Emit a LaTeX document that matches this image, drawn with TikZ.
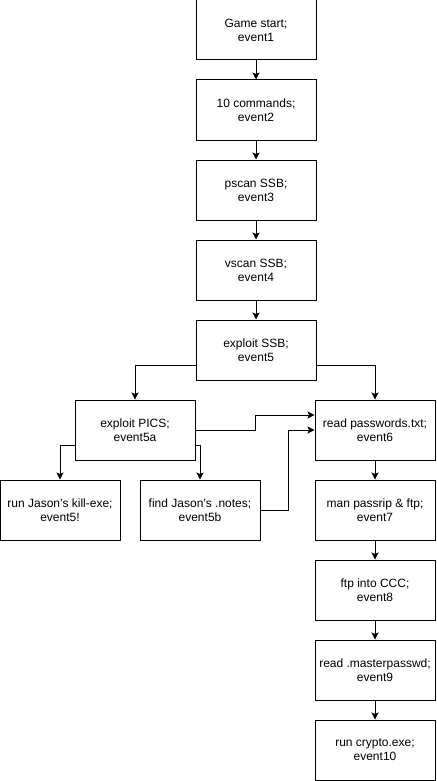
\documentclass[tikz,border=0pt]{standalone}
\usepackage{fontspec}
\setmainfont{Liberation Sans}
\usetikzlibrary{arrows.meta}
\usetikzlibrary{calc}

\tikzset{
  event/.style={draw, line width=1pt, minimum width=120pt, minimum height=60pt,
    inner sep=0pt, align=center, font=\fontsize{12}{14}\selectfont},
  link/.style={-{Stealth[length=7pt,width=7pt,inset=1.5pt]}, line width=1pt}
}

\begin{document}
\begin{tikzpicture}[x=1pt, y=-1pt]
    \useasboundingbox (0,0) rectangle (436,781);
    % main line
    \node[event] (e1) at (256,30) {Game start;\\event1};
    \node[event] (e2) at (256,110) {10 commands;\\event2};
    \node[event] (e3) at (256,190) {pscan SSB;\\event3};
    \node[event] (e4) at (256,270) {vscan SSB;\\event4};
    \node[event] (e5) at (256,350) {exploit SSB;\\event5};
    % side branch
    \node[event] (e5a) at (135,430) {exploit PICS;\\event5a};
    \node[event] (e5x) at (60,510) {run Jason's kill-exe;\\event5!};
    \node[event] (e5b) at (200,510) {find Jason's .notes;\\event5b};
    % right column
    \node[event] (e6) at (375,430) {read passwords.txt;\\event6};
    \node[event] (e7) at (375,510) {man passrip \& ftp;\\event7};
    \node[event] (e8) at (375,590) {ftp into CCC;\\event8};
    \node[event] (e9) at (375,670) {read .masterpasswd;\\event9};
    \node[event] (e10) at (375,750) {run crypto.exe;\\event10};

    \draw[link] (e1) -- (e2);
    \draw[link] (e2) -- (e3);
    \draw[link] (e3) -- (e4);
    \draw[link] (e4) -- (e5);
    \draw[link] ($(e5.west)+(0,15)$) -| (e5a.north);
    \draw[link] ($(e5.east)+(0,15)$) -| (e6.north);
    \draw[link] (e5a.east) -- ++(60,0) |- ($(e6.west)+(0,-15)$);
    \draw[link] (e5b.east) -- ++(28,0) |- (e6.west);
    \draw[link] ($(e5a.west)+(0,15)$) -| (e5x.north);
    \draw[link] ($(e5a.east)+(0,15)$) -| (e5b.north);
    \draw[link] (e6) -- (e7);
    \draw[link] (e7) -- (e8);
    \draw[link] (e8) -- (e9);
    \draw[link] (e9) -- (e10);
\end{tikzpicture}
\end{document}
